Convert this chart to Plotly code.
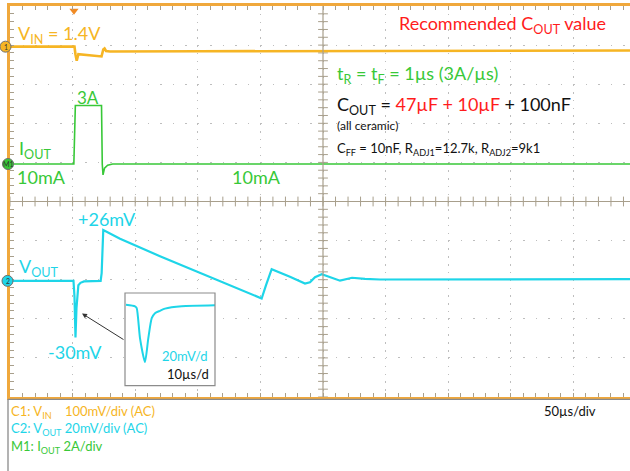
import numpy as np
import plotly.graph_objects as go

# ---------------- data ----------------
# time in microseconds from left edge of screen (50 us/div)
vin_t = [0, 51.5, 52.3, 53.3, 54.6, 59.9, 67.9, 71.9, 73.1, 74.5, 75.5, 76.7, 79.9, 151.8, 311.5, 495.2]
vin_mv = [0, 0, -20, -36, -19, -21, -22.5, -24.5, -25, -7, -4.5, -11, -12.3, -11.8, -10.5, -9.7]

iout_t = [0, 51.0, 52.2, 73.1, 73.7, 74.3, 75.5, 78.0, 82.0, 495.2]
iout_a = [0.01, 0.01, 3.0, 3.0, 0.0, -0.55, -0.2, -0.05, 0.01, 0.01]

vout_t = [0, 50.7, 51.5, 52.3, 53.1, 54.6, 56.3, 59.1, 72.4, 73.2, 74.5, 87.9, 119.8, 151.8,
          183.7, 201.0, 204.5, 209.0, 223.6, 235.6, 239.6, 243.6, 249.0, 255.6, 263.6, 273.2,
          283.5, 295.5, 351.4, 495.2]
vout_mv = [0, 0, -8, -29, -14, -2.2, -1.0, -0.3, 0, 4, 26, 21.6, 12.6, 4.2,
           -4.2, -9.0, -2.2, 6.0, 2.1, -1.4, -0.7, 1.9, 3.4, 2.0, 0.1, 1.6,
           1.0, 0.7, 0.8, 0.9]

# zoomed inset (10 us/div, 20 mV/div)
inset_t = [0.16, 1.6, 1.87, 2.4, 3.19, 3.72, 4.27, 4.79, 5.59, 6.39, 9.06, 14.38]
inset_mv = [0, -0.8, -1.7, -17.2, -29.3, -17.2, -6.9, -4.3, -3.1, -2.0, -0.8, -0.3]

# channel settings: scale per division and position (divisions from centre)
VIN_SCALE, VIN_POS = 100.0, 3.96
IOUT_SCALE, IOUT_POS = 2.0, 0.954
VOUT_SCALE, VOUT_POS = 20.0, -2.03
channel_labels = ["1", "M1", "2"]

# ---------------- geometry ----------------
W, H = 630, 471
L, T, R, B = 10, 6, 0, 74
PW, PH = W - L - R, H - T - B
DIV_X = 62.6
X_MAX = PW / DIV_X * 50.0

FONT = "Lato"
ORANGE = "#F6B524"
BORDER = "#F0A83C"
GREEN = "#38C838"
CYAN = "#1ED5E8"
RED = "#FF1C1C"
BLACK = "#111111"
GRID = "#BEBEBE"
AXC = "#A89F8C"


def to_div(vals, scale, pos):
    return [pos + v / scale for v in vals]


def px(x):
    return (x - L) / PW


def py(y):
    return (T + PH - y) / PH


fig = go.Figure()

# centre cross ticks
tx = np.arange(0, X_MAX, 10.0)
fig.add_trace(go.Scatter(x=tx, y=[0] * len(tx), mode="markers", hoverinfo="skip",
                         marker=dict(symbol="line-ns", size=7, line=dict(color=AXC, width=1))))
ty = np.arange(-5, 5.01, 0.2)
fig.add_trace(go.Scatter(x=[250] * len(ty), y=ty, mode="markers", hoverinfo="skip",
                         marker=dict(symbol="line-ew", size=7, line=dict(color=AXC, width=1))))

# traces
fig.add_trace(go.Scatter(x=vin_t, y=to_div(vin_mv, VIN_SCALE, VIN_POS), mode="lines",
                         line=dict(color=ORANGE, width=2.6)))
fig.add_trace(go.Scatter(x=iout_t, y=to_div(iout_a, IOUT_SCALE, IOUT_POS), mode="lines",
                         line=dict(color=GREEN, width=1.6)))
fig.add_trace(go.Scatter(x=vout_t, y=to_div(vout_mv, VOUT_SCALE, VOUT_POS), mode="lines",
                         line=dict(color=CYAN, width=2.2)))

# inset trace
fig.add_trace(go.Scatter(x=inset_t, y=inset_mv, mode="lines", xaxis="x2", yaxis="y2",
                         line=dict(color=CYAN, width=2.0, shape="spline", smoothing=0.6)))

# trigger marker
fig.add_trace(go.Scatter(x=[51.1], y=[4.88], mode="markers", cliponaxis=False,
                         marker=dict(symbol="triangle-down", size=8, color="#F08A24")))

ins_x0, ins_x1 = px(125), px(215)
ins_y0, ins_y1 = py(385.7), py(293)

fig.update_layout(
    width=W, height=H, margin=dict(l=L, r=R, t=T, b=B, autoexpand=False),
    paper_bgcolor="white", plot_bgcolor="white", showlegend=False,
    xaxis=dict(range=[0, X_MAX], dtick=50, tick0=0, showgrid=True, gridcolor=GRID,
               griddash="1.5px,6.32px", gridwidth=1.4, zeroline=False, showticklabels=False,
               automargin=False,
               ticks="inside", ticklen=4, tickcolor=AXC, showline=True, linecolor=BORDER,
               linewidth=2.5, mirror="ticks",
               minor=dict(ticks="inside", dtick=10, ticklen=4, tickcolor=AXC, showgrid=False)),
    yaxis=dict(range=[-5, 5], dtick=1, tick0=0, showgrid=True, gridcolor=GRID,
               griddash="1.5px,11.02px", gridwidth=1.4, zeroline=False, showticklabels=False,
               automargin=False,
               ticks="inside", ticklen=4, tickcolor=AXC, showline=True, linecolor=BORDER,
               linewidth=2.8,
               minor=dict(ticks="inside", dtick=0.2, ticklen=4, tickcolor=AXC, showgrid=False)),
    xaxis2=dict(domain=[ins_x0, ins_x1], range=[0, 90 / 6.26], anchor="y2", visible=False,
                automargin=False),
    yaxis2=dict(domain=[ins_y0, ins_y1], range=[-41.4, 6.0], anchor="x2", visible=False,
                automargin=False),
)

shapes = [
    dict(type="line", xref="x", yref="y", x0=250, x1=250, y0=-5, y1=5, line=dict(color=AXC, width=1.2)),
    dict(type="line", xref="x", yref="y", x0=0, x1=X_MAX, y0=0, y1=0, line=dict(color=AXC, width=1.2)),
    dict(type="rect", xref="paper", yref="paper", x0=ins_x0, x1=ins_x1, y0=ins_y0, y1=ins_y1,
         line=dict(color="#8C8C8C", width=1.2)),
    dict(type="line", xref="paper", yref="paper", x0=px(8), x1=px(640), y0=py(399.3), y1=py(399.3),
         line=dict(color="#8A8A8A", width=1.3)),
    dict(type="line", xref="paper", yref="paper", x0=px(8), x1=px(8), y0=py(399.3), y1=py(475),
         line=dict(color="#8A8A8A", width=1.3)),
]

# channel position markers (circles on the left edge)
ch_pos = [VIN_POS, IOUT_POS + 0.005, VOUT_POS]
ch_col = [ORANGE, GREEN, CYAN]
ch_x = [5.5, 8.0, 7.5]
annotations = []
for lab, pos, col, cx in zip(channel_labels, ch_pos, ch_col, ch_x):
    shapes.append(dict(type="circle", xref="paper", yref="y", xsizemode="pixel", ysizemode="pixel",
                       xanchor=px(cx), yanchor=pos, x0=-5.5, x1=5.5, y0=-5.5, y1=5.5,
                       fillcolor=col, line=dict(color="#6E6E6E", width=1), layer="above"))
    annotations.append(dict(text=lab, x=px(cx), y=pos, xref="paper", yref="y", showarrow=False,
                            xanchor="center", yanchor="middle",
                            font=dict(family=FONT, size=7, color="#333333")))
fig.update_layout(shapes=shapes)


def ann(text, x, y, color, size, xanchor="left"):
    return dict(text=text, x=px(x), y=py(y), xref="paper", yref="paper", xanchor=xanchor,
                yanchor="middle", showarrow=False, font=dict(family=FONT, size=size, color=color))


R_ = lambda s: "<span style='color:%s'>%s</span>" % (RED, s)
annotations += [
    ann("V<sub>IN</sub> = 1.4V", 16, 34, ORANGE, 18),
    ann("3A", 75, 97, GREEN, 17),
    ann("I<sub>OUT</sub>", 17, 149, GREEN, 18),
    ann("10mA", 15, 177, GREEN, 18),
    ann("10mA", 230, 177, GREEN, 18),
    ann("+26mV", 76, 219, CYAN, 18),
    ann("V<sub>OUT</sub>", 17, 267, CYAN, 18),
    ann("-30mV", 46, 352, CYAN, 18),
    ann("Recommended C<sub>OUT</sub> value", 397, 25, RED, 18),
    ann("t<sub>R</sub> = t<sub>F</sub> = 1µs (3A/µs)", 335, 74, GREEN, 18),
    ann("C<sub>OUT</sub> = " + R_("47µF + 10µF") + " + 100nF", 335, 105, BLACK, 18),
    ann("(all ceramic)", 335, 125, BLACK, 12),
    ann("C<sub>FF</sub> = 10nF, R<sub>ADJ1</sub>=12.7k, R<sub>ADJ2</sub>=9k1", 335, 149, BLACK, 13),
    ann("20mV/d", 209, 356, CYAN, 13, "right"),
    ann("10µs/d", 211, 374, BLACK, 13, "right"),
    ann("C1: V<sub>IN</sub>    100mV/div (AC)", 9, 412, ORANGE, 13),
    ann("C2: V<sub>OUT</sub> 20mV/div (AC)", 9, 429, CYAN, 13),
    ann("M1: I<sub>OUT</sub> 2A/div", 9, 447, GREEN, 13),
    ann("50µs/div", 542, 411, BLACK, 13),
    # arrow to the undershoot spike
    dict(x=px(82), y=py(313.5), xref="paper", yref="paper", ax=43, ay=27, showarrow=True,
         arrowhead=2, arrowsize=1, arrowwidth=1, arrowcolor="#333333", text=""),
]
fig.update_layout(annotations=annotations)

fig.write_html("out.html", config={"displayModeBar": False},
               post_script="document.body.style.margin='0px';document.body.style.overflow='hidden';")
